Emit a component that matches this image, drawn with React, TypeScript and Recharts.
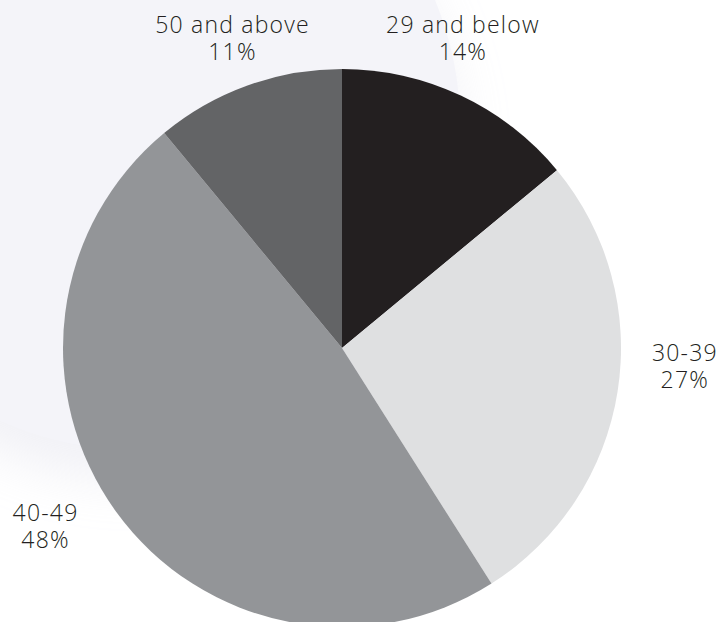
import { PieChart, Pie, Cell } from 'recharts';

const groups = ['29 and below', '30-39', '40-49', '50 and above'];
const shares = [14, 27, 48, 11];
const colors = ['#231f20', '#dfe0e1', '#939598', '#636466'];

// small hand nudges so the labels sit where the original put them
const labelNudge = [
  [-23, -9],
  [9, -40],
  [-23, -26],
  [5, 3],
];

const chartData = groups.map((g, i) => ({ name: g, value: shares[i] }));

const RAD = Math.PI / 180;

function renderLabel(props: any) {
  const { cx, cy, midAngle, outerRadius, index, name, value } = props;
  const r = outerRadius + 59;
  const x = cx + r * Math.cos(-midAngle * RAD) + labelNudge[index][0];
  const y = cy + r * Math.sin(-midAngle * RAD) + labelNudge[index][1];
  return (
    <text
      x={x}
      y={y}
      textAnchor="middle"
      fill="#231f20"
      fontFamily="'Open Sans', sans-serif"
      fontWeight={300}
      fontSize={23}
      letterSpacing={1.2}
    >
      <tspan x={x} y={y}>{name}</tspan>
      <tspan x={x} y={y + 27}>{value}%</tspan>
    </text>
  );
}

export default function App() {
  return (
    <div style={{ position: 'absolute', left: 0, top: 0, width: 722, height: 622, background: '#fff', overflow: 'hidden' }}>
      <div
        style={{
          position: 'absolute',
          left: 135 - 325,
          top: 125 - 325,
          width: 650,
          height: 650,
          borderRadius: '50%',
          background: '#f4f4f9',
          boxShadow: '0 30px 50px rgba(238,238,244,0.8)',
        }}
      />
      <div style={{ position: 'absolute', left: 0, top: 0 }}>
        <PieChart width={722} height={622} margin={{ top: 0, right: 0, bottom: 0, left: 0 }}>
          <Pie
            data={chartData}
            dataKey="value"
            nameKey="name"
            cx={342}
            cy={348}
            outerRadius={279}
            startAngle={90}
            endAngle={-270}
            stroke="none"
            label={renderLabel}
            labelLine={false}
            isAnimationActive={false}
          >
            {chartData.map((d, i) => (
              <Cell key={d.name} fill={colors[i]} />
            ))}
          </Pie>
        </PieChart>
      </div>
    </div>
  );
}
